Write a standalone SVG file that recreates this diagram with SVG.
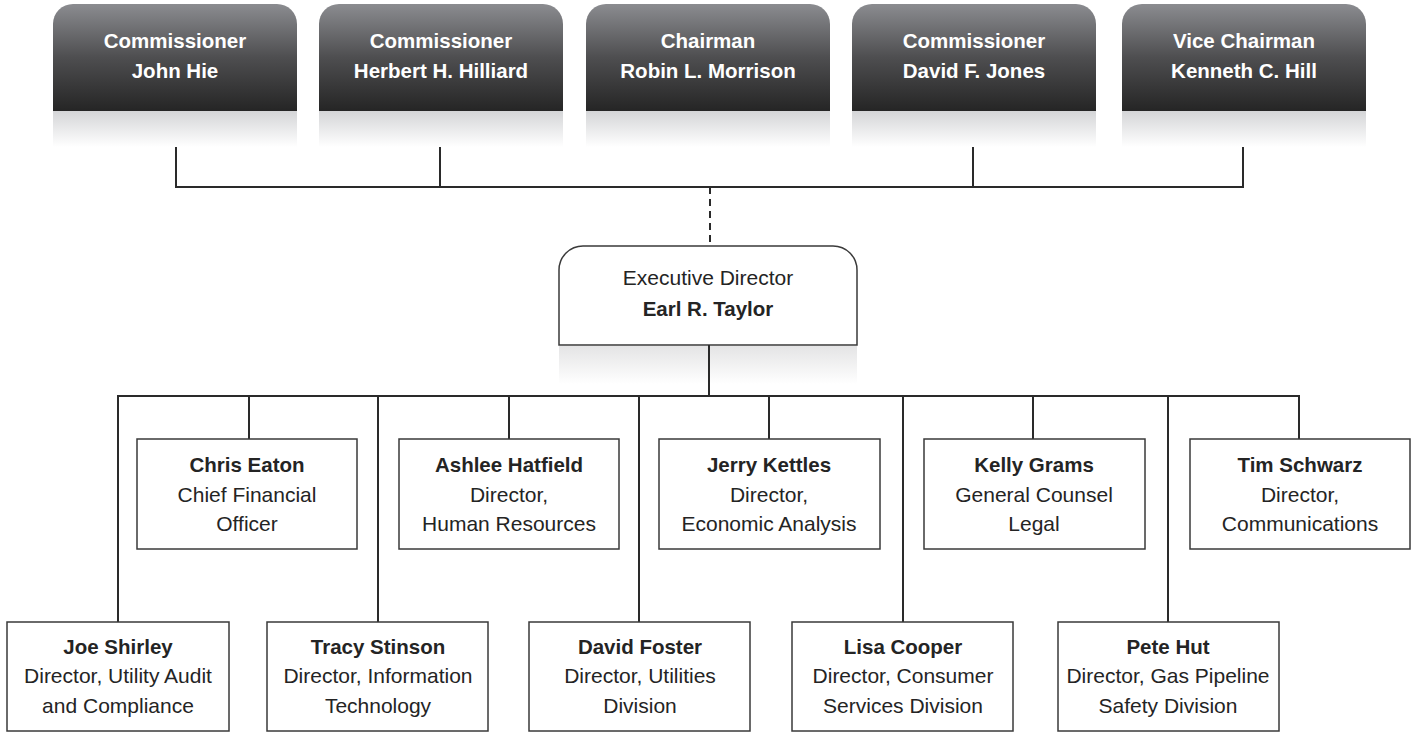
<svg xmlns="http://www.w3.org/2000/svg" width="1416" height="732" viewBox="0 0 1416 732">
<defs>
<linearGradient id="dark" x1="0" y1="0" x2="0" y2="1">
<stop offset="0" stop-color="#8b8c90"/>
<stop offset="0.5" stop-color="#4e4e50"/>
<stop offset="1" stop-color="#252525"/>
</linearGradient>
<linearGradient id="refl" x1="0" y1="0" x2="0" y2="1">
<stop offset="0" stop-color="#d4d5d7"/>
<stop offset="1" stop-color="#ffffff"/>
</linearGradient>
<linearGradient id="refl2" x1="0" y1="0" x2="0" y2="1">
<stop offset="0" stop-color="#e4e4e5"/>
<stop offset="1" stop-color="#ffffff"/>
</linearGradient>
</defs>
<style>
text{font-family:"Liberation Sans",Arial,Helvetica,sans-serif;font-size:21px;text-anchor:middle;fill:#242424}
.w{fill:#ffffff;font-weight:bold;font-size:20.5px}
.b{font-weight:bold;font-size:20.5px}
.box{fill:#ffffff;stroke:#3a3a3a;stroke-width:1.5}
.ln{fill:none;stroke:#2a2a2a;stroke-width:2}
.dash{fill:none;stroke:#2a2a2a;stroke-width:2;stroke-dasharray:7,5}
</style>
<rect width="1416" height="732" fill="#ffffff"/>

<g id="connectors">
<path class="ln" d="M176,111V187H1243V111M440,111V187M973,111V187"/>
<path class="dash" d="M710,187V246"/>
<path class="ln" d="M709,345V396"/>
<path class="ln" d="M118,622V396H1299V439M249,396V439M509,396V439M769,396V439M1033,396V439"/>
<path class="ln" d="M378,396V622M639,396V622M903,396V622M1168,396V622"/>
</g>

<g id="commissioner-john-hie">
<rect x="53" y="111" width="244" height="36" fill="url(#refl)"/>
<path d="M53,111V24A20,20 0 0 1 73,4H277A20,20 0 0 1 297,24V111Z" fill="url(#dark)"/>
<text class="w" x="175" y="48">Commissioner</text>
<text class="w" x="175" y="78">John Hie</text>
</g>
<g id="commissioner-herbert-hilliard">
<rect x="319" y="111" width="244" height="36" fill="url(#refl)"/>
<path d="M319,111V24A20,20 0 0 1 339,4H543A20,20 0 0 1 563,24V111Z" fill="url(#dark)"/>
<text class="w" x="441" y="48">Commissioner</text>
<text class="w" x="441" y="78">Herbert H. Hilliard</text>
</g>
<g id="chairman-robin-morrison">
<rect x="586" y="111" width="244" height="36" fill="url(#refl)"/>
<path d="M586,111V24A20,20 0 0 1 606,4H810A20,20 0 0 1 830,24V111Z" fill="url(#dark)"/>
<text class="w" x="708" y="48">Chairman</text>
<text class="w" x="708" y="78">Robin L. Morrison</text>
</g>
<g id="commissioner-david-jones">
<rect x="852" y="111" width="244" height="36" fill="url(#refl)"/>
<path d="M852,111V24A20,20 0 0 1 872,4H1076A20,20 0 0 1 1096,24V111Z" fill="url(#dark)"/>
<text class="w" x="974" y="48">Commissioner</text>
<text class="w" x="974" y="78">David F. Jones</text>
</g>
<g id="vice-chairman-kenneth-hill">
<rect x="1122" y="111" width="244" height="36" fill="url(#refl)"/>
<path d="M1122,111V24A20,20 0 0 1 1142,4H1346A20,20 0 0 1 1366,24V111Z" fill="url(#dark)"/>
<text class="w" x="1244" y="48">Vice Chairman</text>
<text class="w" x="1244" y="78">Kenneth C. Hill</text>
</g>

<g id="executive-director">
<rect x="559" y="346" width="298" height="38" fill="url(#refl2)"/>
<path class="box" d="M559,345V270A24,24 0 0 1 583,246H833A24,24 0 0 1 857,270V345Z"/>
<path class="ln" d="M709,345V384"/>
<text x="708" y="285">Executive Director</text>
<text class="b" x="708" y="316">Earl R. Taylor</text>
</g>

<g id="chris-eaton">
<rect class="box" x="137" y="439" width="220" height="110"/>
<text class="b" x="247" y="472">Chris Eaton</text>
<text x="247" y="502">Chief Financial</text>
<text x="247" y="531">Officer</text>
</g>
<g id="ashlee-hatfield">
<rect class="box" x="399" y="439" width="220" height="110"/>
<text class="b" x="509" y="472">Ashlee Hatfield</text>
<text x="509" y="502">Director,</text>
<text x="509" y="531">Human Resources</text>
</g>
<g id="jerry-kettles">
<rect class="box" x="659" y="439" width="221" height="110"/>
<text class="b" x="769" y="472">Jerry Kettles</text>
<text x="769" y="502">Director,</text>
<text x="769" y="531">Economic Analysis</text>
</g>
<g id="kelly-grams">
<rect class="box" x="924" y="439" width="221" height="110"/>
<text class="b" x="1034" y="472">Kelly Grams</text>
<text x="1034" y="502">General Counsel</text>
<text x="1034" y="531">Legal</text>
</g>
<g id="tim-schwarz">
<rect class="box" x="1190" y="439" width="220" height="110"/>
<text class="b" x="1300" y="472">Tim Schwarz</text>
<text x="1300" y="502">Director,</text>
<text x="1300" y="531">Communications</text>
</g>

<g id="joe-shirley">
<rect class="box" x="7" y="622" width="222" height="109"/>
<text class="b" x="118" y="654">Joe Shirley</text>
<text x="118" y="683">Director, Utility Audit</text>
<text x="118" y="713">and Compliance</text>
</g>
<g id="tracy-stinson">
<rect class="box" x="267" y="622" width="221" height="109"/>
<text class="b" x="378" y="654">Tracy Stinson</text>
<text x="378" y="683">Director, Information</text>
<text x="378" y="713">Technology</text>
</g>
<g id="david-foster">
<rect class="box" x="529" y="622" width="221" height="109"/>
<text class="b" x="640" y="654">David Foster</text>
<text x="640" y="683">Director, Utilities</text>
<text x="640" y="713">Division</text>
</g>
<g id="lisa-cooper">
<rect class="box" x="792" y="622" width="221" height="109"/>
<text class="b" x="903" y="654">Lisa Cooper</text>
<text x="903" y="683">Director, Consumer</text>
<text x="903" y="713">Services Division</text>
</g>
<g id="pete-hut">
<rect class="box" x="1058" y="622" width="221" height="109"/>
<text class="b" x="1168" y="654">Pete Hut</text>
<text x="1168" y="683">Director, Gas Pipeline</text>
<text x="1168" y="713">Safety Division</text>
</g>
</svg>
